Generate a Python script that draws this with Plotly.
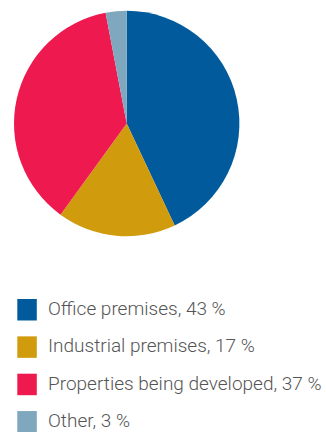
import plotly.graph_objects as go

# Property portfolio split by type
categories = ["Office premises", "Industrial premises", "Properties being developed", "Other"]
shares = [43, 17, 37, 3]
colors = ["#005A9C", "#D09B0C", "#EE194E", "#7FA7BD"]

W, H = 326, 432

fig = go.Figure(
    go.Pie(
        labels=categories,
        values=shares,
        sort=False,
        direction="clockwise",
        rotation=0,
        marker=dict(colors=colors, line=dict(width=0)),
        textinfo="none",
        hoverinfo="label+percent",
        domain=dict(x=[14.0 / W, 239.4 / W], y=[1 - 236.2 / H, 1 - 10.8 / H]),
        showlegend=False,
    )
)

# Hand-built legend below the pie: colour square plus label text
row_top = 299.0      # top of first square, px from top
row_step = 37.35     # vertical spacing between rows
sq_w, sq_h = 19.5, 21.5
sq_x0 = 17.3
text_x = 46.5
text_dy = -1.4       # small lift so the last label stays inside the page

shapes = []
annotations = []
for i, (name, val, col) in enumerate(zip(categories, shares, colors)):
    y0 = row_top + i * row_step
    y1 = y0 + sq_h
    shapes.append(dict(
        type="rect", xref="paper", yref="paper",
        x0=sq_x0 / W, x1=(sq_x0 + sq_w) / W,
        y0=1 - y1 / H, y1=1 - y0 / H,
        fillcolor=col, line=dict(width=0), layer="above",
    ))
    annotations.append(dict(
        xref="paper", yref="paper",
        x=text_x / W, y=1 - (y0 + sq_h / 2 + text_dy) / H,
        xanchor="left", yanchor="middle",
        text=f"{name}, {val} %",
        showarrow=False,
        borderpad=0,
        font=dict(family="Roboto", size=19, color="#555555", weight=300),
    ))

fig.update_layout(
    width=W, height=H,
    margin=dict(l=0, r=0, t=0, b=0),
    paper_bgcolor="white",
    plot_bgcolor="white",
    shapes=shapes,
    annotations=annotations,
)

fig.write_html("out.html")
